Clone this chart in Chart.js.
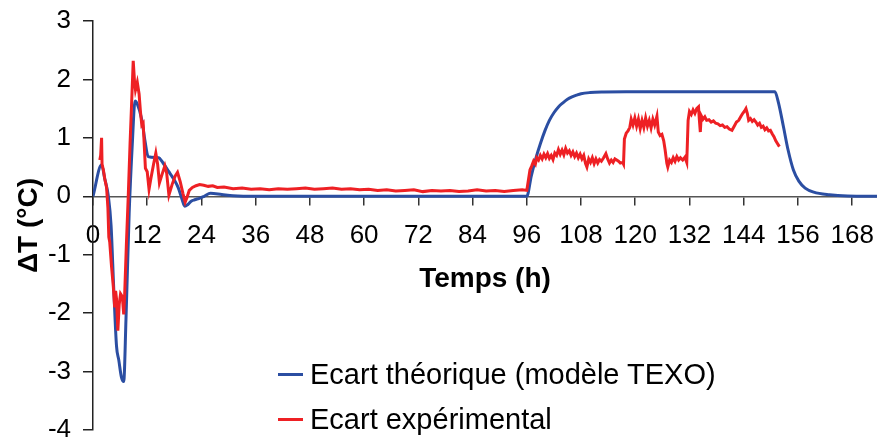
<!DOCTYPE html>
<html>
<head>
<meta charset="utf-8">
<script src="https://cdn.jsdelivr.net/npm/chart.js@4.4.0/dist/chart.umd.min.js"></script>
<style>
body { margin: 0; background: #fff; }
#wrap { position: relative; width: 877px; height: 441px; }
.sw { position: absolute; left: 278px; width: 25px; height: 3px; }
.lt { position: absolute; left: 310px; font: 29px "Liberation Sans", Arial, sans-serif; line-height: 31px; color: #000; white-space: nowrap; }
</style>
</head>
<body>
<div id="wrap">
  <canvas id="chart" width="877" height="441"></canvas>
  <div class="sw" style="top:373px;background:#2b4ea2"></div>
  <div class="lt" style="top:359px">Ecart théorique (modèle TEXO)</div>
  <div class="sw" style="top:418px;background:#ee2024"></div>
  <div class="lt" style="top:404px">Ecart expérimental</div>
</div>
<script>
// Ecart theorique (modele TEXO)
var theoHours = [0, 1.9, 2.6, 3.4, 4.0, 4.6, 5.2, 5.7, 6.3, 6.8, 7.3, 8.0, 8.7, 9.3, 9.8, 10.8, 11.5, 12.2,
    14.5, 15.5, 16.7, 17.9, 18.9, 19.7, 20.3, 21.0, 21.8, 22.5, 23.7, 24.6, 26.0, 28.5, 31.0, 36.0,
    96.0, 97.0, 98.0, 99.0, 100.0, 101.0, 102.0, 103.0, 104.0, 105.0, 106.0, 107.0, 108.0, 110.0, 113.0, 118.0,
    150.9, 151.7, 152.8, 153.8, 155.0, 156.2, 157.6, 159.5, 163.0, 167.0, 173.5];
var theoValues = [0, 0.54, 0.3, 0, -0.5, -1.6, -2.56, -2.8, -3.1, -3.17, -2.1, -0.3, 0.9, 1.63, 1.58, 1.31, 0.95, 0.68,
    0.66, 0.57, 0.43, 0.29, 0.14, -0.05, -0.17, -0.14, -0.08, -0.06, -0.03, 0, 0.05, 0.03, 0.01, 0,
    0, 0.35, 0.65, 0.9, 1.12, 1.3, 1.43, 1.53, 1.6, 1.66, 1.7, 1.73, 1.755, 1.775, 1.785, 1.79,
    1.79, 1.6, 1.19, 0.8, 0.45, 0.26, 0.14, 0.07, 0.025, 0.005, 0];

// Ecart experimental
var expHours = [1.5, 1.7, 1.9, 2.0, 2.3, 2.6, 3.0, 3.3, 3.5, 3.7, 4.1, 4.5, 4.8, 5.0, 5.2, 5.5, 5.8, 6.1, 6.5, 6.8, 7.0,
    7.4, 7.8, 8.2, 8.6, 8.9, 9.2, 9.4, 9.8, 10.2, 10.5, 10.8, 11.1, 11.6, 12.0, 12.4, 12.8, 13.4, 13.9, 14.3, 14.7,
    15.3, 15.9, 16.3, 16.8, 17.5, 18.2, 18.7, 19.3, 19.9, 20.4, 20.8, 21.3, 22.0, 22.8, 23.6,
    24.5, 25.5, 26.5, 27.5, 29, 31, 33, 35, 37, 39, 41, 43, 45, 47, 49, 51, 53, 55, 57, 59, 61, 63, 65, 67, 69,
    71, 73, 75, 77, 79, 81, 83, 85, 87, 89, 91, 93, 95, 96.0,
    96.4, 96.7, 97.1, 97.5, 97.9, 98.2, 98.6, 99.0, 99.4, 99.8, 100.2, 100.6, 101.0, 101.4, 101.8, 102.2, 102.6,
    103.0, 103.4, 103.8, 104.2, 104.6, 105.0, 105.4, 105.8, 106.2, 106.6, 107.0, 107.4, 107.8, 108.2, 108.6,
    109.0, 109.3, 109.7, 110.1, 110.5, 110.9, 111.3, 111.7, 112.1, 112.5, 113.0, 113.5, 113.9, 114.3, 114.7,
    115.1, 115.5, 115.9, 116.3, 116.7, 117.2, 117.4, 117.6, 118.0, 118.4, 118.8, 119.1, 119.5, 119.9, 120.3,
    120.7, 121.1, 121.5, 121.9, 122.3, 122.7, 123.1, 123.5, 123.9, 124.3, 124.8, 125.1, 125.5, 125.9, 126.3,
    126.6, 127.0, 127.2, 127.6, 128.0, 128.4, 128.8, 129.2, 129.6, 130.0, 130.5, 131.0, 131.4, 131.7, 132.0,
    132.4, 132.8, 133.2, 133.6, 134.0, 134.2, 134.4, 134.6, 135.0, 135.4, 135.8, 136.3, 136.8, 137.3, 137.8,
    138.3, 138.8, 139.3, 139.8, 140.3, 140.8, 141.4, 141.9, 142.4, 142.9, 143.4, 143.8, 144.2, 144.5, 144.8,
    145.1, 145.5, 145.9, 146.3, 146.7, 147.1, 147.5, 147.9, 148.3, 148.7, 149.1, 149.5, 149.9, 150.3, 150.7,
    151.1, 151.5, 151.9];
var expValues = [0.62, 0.7, 1.0, 0.55, 0.45, 0.3, 0.15, -0.2, -0.7, -0.78, -1.2, -1.55, -1.9, -1.62, -1.75, -2.3, -1.85, -1.67, -1.72, -2.02, -1.7,
    -0.8, 0.0, 0.9, 1.7, 2.32, 1.95, 1.82, 1.95, 1.75, 1.45, 1.22, 1.25, 0.48, 0.42, 0.12, 0.3, 0.55, 0.74, 0.55, 0.23,
    0.38, 0.52, 0.4, 0.02, 0.2, 0.35, 0.41, 0.25, 0.05, -0.1, -0.02, 0.1, 0.15, 0.18, 0.2,
    0.19, 0.17, 0.18, 0.15, 0.16, 0.13, 0.14, 0.12, 0.13, 0.11, 0.13, 0.12, 0.13, 0.14, 0.12, 0.13, 0.14, 0.12, 0.13, 0.11, 0.12, 0.1, 0.11, 0.09, 0.1,
    0.11, 0.08, 0.1, 0.09, 0.1, 0.08, 0.09, 0.11, 0.09, 0.1, 0.08, 0.1, 0.11, 0.1,
    0.3, 0.45, 0.52, 0.6, 0.55, 0.66, 0.62, 0.7, 0.64, 0.72, 0.66, 0.73, 0.65, 0.7, 0.63, 0.74, 0.7,
    0.8, 0.72, 0.79, 0.71, 0.82, 0.74, 0.78, 0.7, 0.76, 0.68, 0.74, 0.66, 0.72, 0.64, 0.7,
    0.56, 0.5, 0.64, 0.58, 0.66, 0.56, 0.64, 0.57, 0.63, 0.6, 0.66, 0.73, 0.64, 0.57, 0.62,
    0.58, 0.64, 0.62, 0.6, 0.57, 0.58, 0.55, 0.98, 1.08, 1.12, 1.18, 1.32, 1.22, 1.34, 1.2,
    1.32, 1.16, 1.3, 1.18, 1.34, 1.2, 1.3, 1.17, 1.32, 1.22, 1.37, 1.1, 1.04, 1.06, 0.95,
    0.8, 0.56, 0.5, 0.62, 0.58, 0.66, 0.6, 0.68, 0.62, 0.66, 0.62, 0.67, 0.58, 1.3, 1.45,
    1.4, 1.48, 1.42, 1.5, 1.53, 1.3, 1.1, 1.38, 1.32, 1.36, 1.3, 1.31, 1.27, 1.29, 1.25,
    1.24, 1.21, 1.22, 1.18, 1.19, 1.15, 1.13, 1.2, 1.27, 1.3, 1.37, 1.42, 1.46, 1.5, 1.42,
    1.3, 1.33, 1.28, 1.31, 1.27, 1.22, 1.25, 1.18, 1.2, 1.14, 1.17, 1.12, 1.13, 1.07, 1.02,
    0.95, 0.9, 0.85];

var xTickStep = 12;

function toPoints(xs, ys) {
    return xs.map((x, i) => ({x: x, y: ys[i]}));
}

Chart.defaults.font.family = '"Liberation Sans", Arial, sans-serif';
Chart.defaults.color = '#000';

const ctx = document.getElementById('chart');
new Chart(ctx, {
    type: 'line',
    data: {
        datasets: [{
            label: 'Ecart théorique (modèle TEXO)',
            data: toPoints(theoHours, theoValues),
            borderColor: '#2b4ea2',
            borderWidth: 3,
            pointRadius: 0,
            cubicInterpolationMode: 'monotone',
            order: 1
        }, {
            label: 'Ecart expérimental',
            data: toPoints(expHours, expValues),
            borderColor: '#ee2024',
            borderWidth: 3,
            pointRadius: 0,
            tension: 0,
            order: 0
        }]
    },
    options: {
        responsive: false,
        animation: false,
        devicePixelRatio: 1,
        layout: {
            padding: {top: 21, bottom: 11, left: 0, right: 0}
        },
        plugins: {
            legend: {display: false},
            tooltip: {enabled: false}
        },
        scales: {
            x: {
                type: 'linear',
                position: {y: 0},
                min: 0,
                max: 173.5,
                ticks: {
                    stepSize: xTickStep,
                    includeBounds: false,
                    padding: 16,
                    maxRotation: 0,
                    autoSkip: false,
                    font: {size: 26}
                },
                grid: {
                    drawOnChartArea: false,
                    tickLength: 8,
                    color: '#333',
                    lineWidth: 1.5
                },
                border: {color: '#555', width: 1.5},
                title: {
                    display: true,
                    text: 'Temps (h)',
                    font: {size: 28, weight: 'bold'},
                    padding: {top: 0, bottom: -100}
                },
                afterFit: function(s) {
                    // axis sits on y = 0, so it should not take room at the bottom
                    s.height = 0;
                    s.paddingLeft = 0;
                    s.paddingRight = 0;
                }
            },
            y: {
                min: -4,
                max: 3,
                ticks: {
                    stepSize: 1,
                    padding: 12,
                    font: {size: 26}
                },
                grid: {
                    drawOnChartArea: false,
                    tickLength: 10,
                    color: '#222',
                    lineWidth: 1.5
                },
                border: {color: '#222', width: 1.5},
                title: {
                    display: true,
                    text: 'ΔT (°C)',
                    font: {size: 28, weight: 'bold'},
                    padding: {top: 12, bottom: 0}
                },
                afterFit: function(s) {
                    s.width = 93;
                    s.paddingTop = 0;
                    s.paddingBottom = 0;
                }
            }
        }
    }
});
</script>
</body>
</html>
